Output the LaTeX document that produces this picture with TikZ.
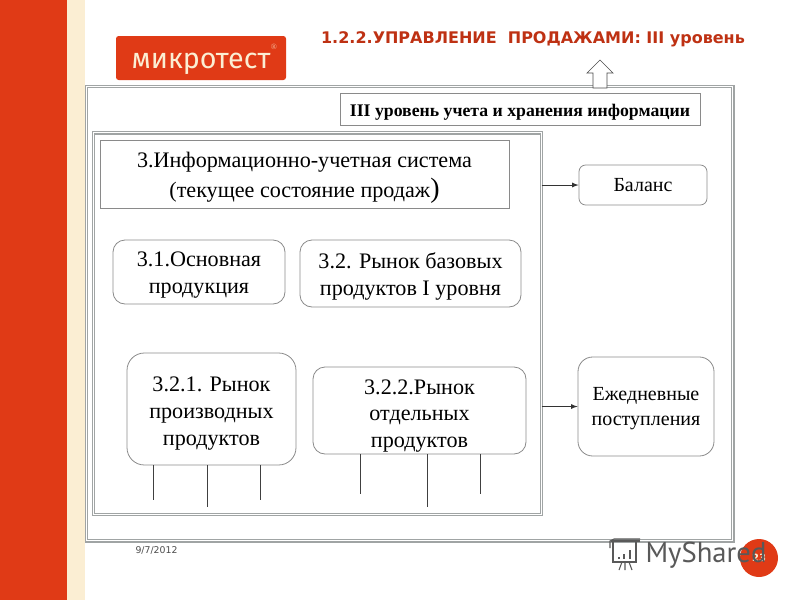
\documentclass[tikz,border=0pt]{standalone}
\usepackage{fontspec}
\setmainfont{Liberation Serif}
\newfontfamily\titlefont{DejaVu Sans}
\newfontfamily\logofont{Fira Sans}
\newfontfamily\markfont{PT Sans}
\usetikzlibrary{calc}
\definecolor{mtred}{HTML}{E03A16}
\definecolor{mtcream}{HTML}{FBEED3}
\definecolor{framegray}{HTML}{A0A4A4}
\definecolor{boxgray}{HTML}{8A8A8A}
\newcommand{\dn}[1]{\rule{0pt}{#1}}
\tikzset{
    sqbox/.style={draw=boxgray,line width=.6pt,align=center,inner sep=0pt},
    rbox/.style={sqbox,rounded corners=9pt},
    frame/.style={draw=framegray,line width=.8pt,double=white,double distance=.9pt,inner sep=0pt,outer sep=0pt},
    stub/.style={draw=black!75,line width=.7pt},
    body/.style={font=\fontsize{16.6}{20}\selectfont},
    small/.style={font=\fontsize{15}{18.75}\selectfont}
}
\begin{document}
\begin{tikzpicture}[x=.75pt,y=-.75pt,>=latex]
    \useasboundingbox (0,0) rectangle (800,600);

    % side bands
    \fill[mtred] (0,0) rectangle (67,600);
    \fill[mtcream] (67,0) rectangle (85,600);

    % logo and title
    \node[fill=mtred,rounded corners=2pt,minimum width=127.5pt,minimum height=33pt,inner sep=0pt,text=mtcream] (logo) at (201,58) {\logofont\fontsize{21.5}{24}\selectfont\dn{21pt}микротест};
    \node[text=mtcream!70!mtred,inner sep=0pt] (regmark) at (274,47) {\fontsize{6}{6}\selectfont ®};
    \node[text=mtred!85!black,inner sep=0pt] (title) at (533,39) {\titlefont\bfseries\fontsize{12}{14}\selectfont 1.2.2.УПРАВЛЕНИЕ\ \ ПРОДАЖАМИ: III уровень};

    % frames
    \node[frame,minimum width=485pt,minimum height=341pt] (outer) at (409.5,313.5) {};
    \node[frame,minimum width=336pt,minimum height=286pt] (inner) at (317.5,323.5) {};
    \draw[draw=black!70,fill=white,line width=.5pt] (600,60) -- (613,73) -- (607,73) -- (607,88) -- (593,88) -- (593,73) -- (587,73) -- cycle;

    \node[sqbox,fill=white,minimum width=270pt,minimum height=24pt,font=\bfseries\fontsize{13.3}{14}\selectfont] (level) at (520,109) {\dn{14pt}III уровень учета и хранения информации};
    \node[sqbox,minimum width=306.75pt,minimum height=51pt,font=\fontsize{16.6}{23}\selectfont] (sys) at (304.5,174) {\dn{17pt}3.Информационно-учетная система\\(текущее состояние продаж{\fontsize{21}{23}\selectfont)}};

    \node[rbox,minimum width=129pt,minimum height=48pt,body] (main) at (199,272) {\dn{16pt}3.1.Основная\\продукция};
    \node[rbox,minimum width=165.75pt,minimum height=50.25pt,body] (base) at (410.5,273.5) {\dn{16pt}3.2. Рынок базовых\\продуктов I уровня};
    \node[rbox,rounded corners=13pt,minimum width=126.75pt,minimum height=84pt,body] (deriv) at (211.5,409) {\dn{18pt}3.2.1. Рынок\\производных\\продуктов};
    \node[rbox,minimum width=159.75pt,minimum height=65.25pt] (single) at (419.5,410.5) {};
    \node[inner sep=0pt,align=center,body] (singletext) at (419.5,416) {3.2.2.Рынок\\отдельных\\продуктов};

    \node[rbox,rounded corners=5pt,minimum width=96pt,minimum height=30pt,small] (balance) at (643,185) {Баланс};
    \node[rbox,rounded corners=11pt,minimum width=102pt,minimum height=74.25pt,small] (daily) at (646,406.5) {\dn{13.5pt}Ежедневные\\поступления};

    \draw[->,black!80,line width=.7pt] (inner.east |- balance.west) -- (balance.west);
    \draw[->,black!80,line width=.7pt] (inner.east |- daily.west) -- (daily.west);

    % legs under the market boxes
    \coordinate (da) at (153,500);
    \coordinate (db) at (207,507);
    \coordinate (dc) at (260,500);
    \coordinate (sa) at (360,494);
    \coordinate (sb) at (427,507);
    \coordinate (sc) at (480,494);
    \foreach \foot in {da,db,dc} {
      \draw[stub] (\foot |- deriv.south) -- (\foot);
    }
    \foreach \foot in {sa,sb,sc} {
      \draw[stub] (\foot |- single.south) -- (\foot);
    }

    % footer
    \node[text=black!70,inner sep=0pt] (date) at (156.5,550) {\titlefont\fontsize{7}{8}\selectfont 9/7/2012};
    \node[circle,fill=mtred,minimum size=28.5pt,inner sep=0pt] (page) at (759,558) {};
    \node[text=mtcream,inner sep=0pt] (pagenum) at (759,558) {\titlefont\bfseries\fontsize{7.5}{8}\selectfont 23};
    \node[text=black!65,inner sep=0pt] (mark) at (706,555) {\markfont\fontsize{21.5}{24}\selectfont MyShared};

    % board icon
    \begin{scope}[draw=black!65,line width=.8pt]
      \draw (611,541) -- (640,541) (613,541) rectangle (636,562);
      \draw (610,548) -- (610,541) -- (614,539) -- (640,539);
      \draw (622,562) -- (619,570) (625,562) -- (625,570) (629,562) -- (632,570);
      \draw[line width=1.6pt] (619,559) -- (619,557) (624,559) -- (624,554) (630,559) -- (630,550);
    \end{scope}
\end{tikzpicture}
\end{document}
